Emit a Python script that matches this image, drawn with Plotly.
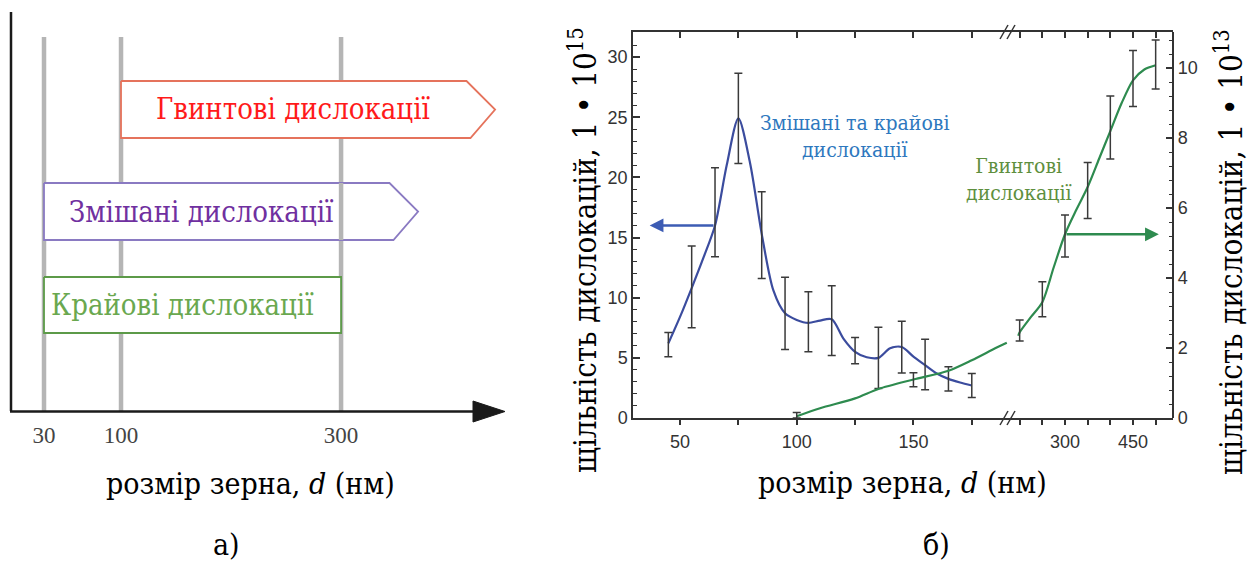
import plotly.graph_objects as go

# ---------------- panel а): grain-size ranges of dislocation types ----------------
size_marks = [30, 100, 300]
disl_types = ["Гвинтові дислокації", "Змішані дислокації", "Крайові дислокації"]
type_from = [100, 30, 30]
type_to = [None, None, 300]          # None -> open-ended range, drawn as an arrow

# ---------------- panel б): dislocation density vs grain size ----------------
# mixed + edge dislocations, left axis (x 10^15)
mixed_d = [45, 55, 65, 75, 85, 95, 105, 115, 125, 135, 145, 155, 165, 175]
mixed_rho = [6.1, 10.9, 17.1, 24.9, 15.2, 8.7, 8.0, 8.1, 5.6, 5.0, 5.9, 4.45, 3.25, 2.7]
mixed_err = [1.0, 3.4, 3.7, 3.75, 3.6, 3.0, 2.5, 2.9, 1.1, 2.55, 2.15, 2.1, 1.0, 1.0]
mixed_fit_d = [45, 50, 55, 60, 65, 70, 75, 80, 85, 90, 95, 100, 105, 110, 115,
               120, 125, 130, 135, 140, 145, 150, 155, 160, 165, 170, 175]
mixed_fit_rho = [6.2, 8.4, 10.8, 13.3, 16.0, 21.0, 24.9, 21.2, 15.3, 10.6, 8.7, 8.15, 7.9, 8.1, 8.2,
                 6.6, 5.5, 5.05, 5.0, 5.8, 5.9, 5.1, 4.4, 3.7, 3.25, 2.95, 2.7]

# screw dislocations, right axis (x 10^13)
screw_d_lo = [100, 150]
screw_rho_lo = [0.08, 1.09]
screw_err_lo = [0.08, 0.2]
screw_d_hi = [200, 250, 300, 350, 400, 450, 500]
screw_rho_hi = [2.5, 3.39, 5.2, 6.5, 8.3, 9.7, 10.1]
screw_err_hi = [0.3, 0.5, 0.6, 0.8, 0.9, 0.8, 0.7]
screw_fit_lo_d = [100, 110, 125, 135, 150, 165, 175, 185, 190]
screw_fit_lo_rho = [0.05, 0.28, 0.56, 0.83, 1.10, 1.35, 1.65, 1.99, 2.15]
screw_fit_hi_d = [197, 200, 225, 250, 275, 300, 325, 350, 375, 400, 425, 450, 475, 500]
screw_fit_hi_rho = [2.35, 2.45, 2.89, 3.31, 4.3, 5.25, 5.95, 6.6, 7.4, 8.2, 9.0, 9.65, 9.96, 10.08]

left_ticks = [0, 5, 10, 15, 20, 25, 30]
right_ticks = [0, 2, 4, 6, 8, 10]
x_lo_ticks = [50, 75, 100, 125, 150, 175]
x_lo_labels = ["50", "", "100", "", "150", ""]
x_hi_ticks = [200, 250, 300, 350, 400, 450, 500]
x_hi_labels = ["", "", "300", "", "", "450", ""]

# ---------------- geometry helpers ----------------
W, H = 1249, 561


def px(x):
    return x / W


def py(y):
    return 1 - y / H


SERIF = "DejaVu Serif Condensed, DejaVu Serif, serif"
SANS = "Liberation Sans"
AXC = "#333333"

fig = go.Figure()


def label(x, y, text, size, color="black", angle=0, ref=("paper", "paper")):
    fig.add_annotation(x=x, y=y, xref=ref[0], yref=ref[1], text=text, showarrow=False,
                       xanchor="center", yanchor="middle", textangle=angle, align="center",
                       font=dict(family=SERIF, size=size, color=color))


# ======================= panel а) =======================
GRAY_TOP = 374
row_top = [330, 228, 134]
row_bot = [273, 171, 78]
row_body_end = [414, 344]
row_text_x = [256, 173, 156]
row_line = ["#e5735c", "#8a7ac2", "#5c9a48"]
row_text = ["#ff1a1a", "#7030a0", "#6aa84f"]

for m in size_marks:
    fig.add_trace(go.Scatter(x=[m, m], y=[0, GRAY_TOP], mode="lines",
                             line=dict(color="#b5b5b5", width=4.5),
                             xaxis="x5", yaxis="y5", hoverinfo="skip", showlegend=False))

for i, name in enumerate(disl_types):
    t, b = row_top[i], row_bot[i]
    x0 = type_from[i]
    if type_to[i] is None:
        e = row_body_end[i]
        xs = [x0, e, e + 26, e + 3.6, x0, x0]
        ys = [t, t, (t + b) / 2, b, b, t]
    else:
        e = type_to[i]
        xs = [x0, e, e, x0, x0]
        ys = [t, t, b, b, t]
    fig.add_trace(go.Scatter(x=xs, y=ys, mode="lines", fill="toself", fillcolor="white",
                             line=dict(color=row_line[i], width=1.8),
                             xaxis="x5", yaxis="y5", hoverinfo="skip", showlegend=False))
    if i == 1:
        # the 300 nm boundary stays visible across the mixed-dislocation arrow
        fig.add_trace(go.Scatter(x=[size_marks[2], size_marks[2]], y=[b, t], mode="lines",
                                 line=dict(color="#b5b5b5", width=4.5),
                                 xaxis="x5", yaxis="y5", hoverinfo="skip", showlegend=False))
    label(row_text_x[i], (t + b) / 2, name, 29, row_text[i], ref=("x5", "y5"))

# axes of the schematic (paper coordinates, so nothing is clipped)
fig.add_shape(type="line", xref="paper", yref="paper", x0=px(11), y0=py(411), x1=px(11), y1=py(12),
              line=dict(color="#1a1a1a", width=2.5))
fig.add_shape(type="line", xref="paper", yref="paper", x0=px(10), y0=py(411.5), x1=px(476), y1=py(411.5),
              line=dict(color="#1a1a1a", width=2.5))
fig.add_shape(type="path", xref="paper", yref="paper",
              path=f"M {px(473)} {py(401)} L {px(505)} {py(411.5)} L {px(473)} {py(422)} Z",
              fillcolor="#1a1a1a", line=dict(color="#1a1a1a", width=1))

# ======================= panel б) =======================
fig.add_trace(go.Scatter(x=mixed_fit_d, y=mixed_fit_rho, mode="lines",
                         line=dict(color="#3b4c9e", width=2.2, shape="spline", smoothing=0.8),
                         xaxis="x", yaxis="y", hoverinfo="skip", showlegend=False))
fig.add_trace(go.Scatter(x=screw_fit_lo_d, y=screw_fit_lo_rho, mode="lines",
                         line=dict(color="#2e8b4f", width=2.2, shape="spline", smoothing=0.8),
                         xaxis="x", yaxis="y2", hoverinfo="skip", showlegend=False))
fig.add_trace(go.Scatter(x=screw_fit_hi_d, y=screw_fit_hi_rho, mode="lines",
                         line=dict(color="#2e8b4f", width=2.2, shape="spline", smoothing=0.8),
                         xaxis="x2", yaxis="y2", hoverinfo="skip", showlegend=False))

err_style = dict(type="data", color="#3a3a3a", thickness=1.5, width=4)
fig.add_trace(go.Scatter(x=mixed_d, y=mixed_rho, mode="markers",
                         marker=dict(size=1, color="rgba(0,0,0,0)"),
                         error_y=dict(array=mixed_err, **err_style),
                         xaxis="x", yaxis="y", hoverinfo="skip", showlegend=False))
fig.add_trace(go.Scatter(x=screw_d_lo, y=screw_rho_lo, mode="markers",
                         marker=dict(size=1, color="rgba(0,0,0,0)"),
                         error_y=dict(array=screw_err_lo, **err_style),
                         xaxis="x", yaxis="y2", hoverinfo="skip", showlegend=False))
fig.add_trace(go.Scatter(x=screw_d_hi, y=screw_rho_hi, mode="markers",
                         marker=dict(size=1, color="rgba(0,0,0,0)"),
                         error_y=dict(array=screw_err_hi, **err_style),
                         xaxis="x2", yaxis="y2", hoverinfo="skip", showlegend=False))
# empty traces so the top mirror axes and the x2/y subplot exist
for xa, ya in (("x2", "y"), ("x3", "y"), ("x4", "y")):
    fig.add_trace(go.Scatter(x=[None], y=[None], xaxis=xa, yaxis=ya,
                             hoverinfo="skip", showlegend=False))

# arrows pointing to the matching axis
y65 = mixed_fit_rho[mixed_fit_d.index(65)]
fig.add_annotation(x=37, y=y65, ax=65, ay=y65, xref="x", yref="y", axref="x", ayref="y",
                   text="", showarrow=True, arrowhead=2, arrowsize=1.1, arrowwidth=2.5,
                   arrowcolor="#3d5cb4")
y300 = screw_fit_hi_rho[screw_fit_hi_d.index(300)]
fig.add_annotation(x=507, y=y300, ax=300, ay=y300, xref="x2", yref="y2", axref="x2", ayref="y2",
                   text="", showarrow=True, arrowhead=2, arrowsize=1.1, arrowwidth=2.5,
                   arrowcolor="#2e8b4f")

# curve labels
label(px(854), py(137), "Змішані та крайові<br>дислокації", 21, "#2e78be")
label(px(1018), py(180), "Гвинтові<br>дислокації", 21, "#5e8f3e")

# axis break marks
for yb in (418, 32):
    for dx in (-4, 3):
        fig.add_shape(type="line", xref="paper", yref="paper",
                      x0=px(1008 + dx - 4), y0=py(yb + 7), x1=px(1008 + dx + 4), y1=py(yb - 7),
                      line=dict(color=AXC, width=1.5))

# titles
label(px(583), py(250), "щільність дислокацій, 1 • 10<sup>15</sup>", 31, angle=-90)
label(px(1229), py(252), "щільність дислокацій, 1 • 10<sup>13</sup>", 31, angle=-90)
label(px(902), py(482), "розмір зерна, <i>d</i> (нм)", 30)
label(px(250), py(483), "розмір зерна, <i>d</i> (нм)", 30)
label(px(226), py(544), "а)", 30)
label(px(936), py(544), "б)", 30)

# ---------------- axes ----------------
XA = [px(633), px(1011)]
XB = [px(1011), px(1173.3)]
YD = [py(418), py(32)]
tickfont = dict(family=SANS, size=18, color=AXC)
common = dict(showgrid=False, zeroline=False, showline=True, linecolor=AXC, linewidth=1.5,
              tickcolor=AXC, tickwidth=1.5, automargin=False)

fig.update_layout(
    width=W, height=H, margin=dict(l=0, r=0, t=0, b=0),
    paper_bgcolor="white", plot_bgcolor="white", showlegend=False,
    xaxis=dict(domain=XA, range=[29.86, 191.8], anchor="y", tickmode="array",
               tickvals=x_lo_ticks, ticktext=x_lo_labels, ticks="outside", ticklen=5,
               tickfont=tickfont, ticklabelstandoff=2, **common),
    xaxis2=dict(domain=XB, range=[180.9, 538.9], anchor="y", tickmode="array",
                tickvals=x_hi_ticks, ticktext=x_hi_labels, ticks="outside", ticklen=5,
                tickfont=tickfont, ticklabelstandoff=2, **common),
    xaxis3=dict(overlaying="x", side="top", anchor="y", range=[29.86, 191.8],
                tickmode="array", tickvals=x_lo_ticks, ticks="inside", ticklen=6,
                showticklabels=False, **common),
    xaxis4=dict(overlaying="x2", side="top", anchor="y", range=[180.9, 538.9],
                tickmode="array", tickvals=x_hi_ticks, ticks="inside", ticklen=6,
                showticklabels=False, **common),
    yaxis=dict(domain=YD, range=[0, 32.08], anchor="x", tickmode="array",
               tickvals=left_ticks, ticks="inside", ticklen=7, tickfont=tickfont,
               minor=dict(dtick=1, tick0=0, ticks="inside", ticklen=4, tickcolor=AXC,
                          tickwidth=1.2),
               **common),
    yaxis2=dict(overlaying="y", side="right", anchor="free", position=XB[1],
                range=[0, 11.03], tickmode="array", tickvals=right_ticks, ticks="inside",
                ticklen=7, tickfont=tickfont,
                minor=dict(dtick=0.4, tick0=0, ticks="inside", ticklen=4, tickcolor=AXC,
                           tickwidth=1.2),
                **common),
    xaxis5=dict(domain=[px(11), px(505)], range=[0, 449], anchor="y5", tickmode="array",
                tickvals=size_marks, ticks="", showline=False, showgrid=False,
                zeroline=False, automargin=False, ticklabelstandoff=8,
                tickfont=dict(family="Liberation Sans Narrow", size=23, color="#444444")),
    yaxis5=dict(domain=[py(411), py(12)], range=[0, 399], anchor="x5", visible=False),
)

fig.write_html("out.html")
